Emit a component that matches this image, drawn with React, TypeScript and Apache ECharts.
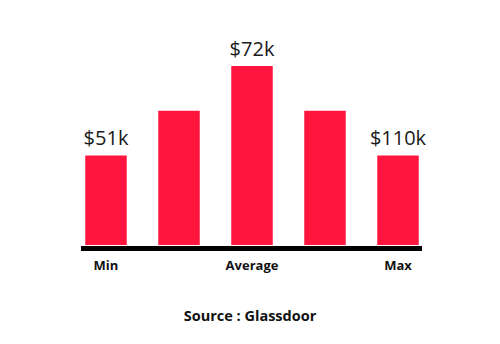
import React, { useEffect, useRef } from "react";
import * as echarts from "echarts";

const categories = ["Min", "", "Average", "", "Max"];
const barValues = [2, 3, 4, 3, 2];
const barLabels = ["$51k", "", "$72k", "", "$110k"];
const sourceText = "Source : Glassdoor";

export default function App() {
  const ref = useRef<HTMLDivElement>(null);
  useEffect(() => {
    if (!ref.current) return;
    const chart = echarts.init(ref.current, null, { renderer: "svg" });
    chart.setOption({
      animation: false,
      backgroundColor: "#ffffff",
      textStyle: { fontFamily: "Open Sans" },
      title: {
        text: sourceText,
        left: "center",
        top: 308,
        padding: 0,
        textStyle: { fontFamily: "Open Sans", fontSize: 14.5, fontWeight: "bold", color: "#111111" },
      },
      grid: [
        { left: 69.5, right: 65.5, top: 21.25, bottom: 99 },
        { left: 81, right: 78, top: 21.25, bottom: 96 },
      ],
      xAxis: [
        {
          type: "category",
          gridIndex: 0,
          data: categories,
          boundaryGap: true,
          axisLine: { show: false },
          axisTick: { show: false },
          axisLabel: {
            interval: 0,
            margin: 13,
            fontFamily: "Open Sans",
            fontSize: 13,
            fontWeight: "bold",
            color: "#111111",
          },
        },
        {
          type: "value",
          gridIndex: 1,
          min: 0,
          max: 1,
          axisLine: { show: true, lineStyle: { color: "#000000", width: 5, cap: "butt" } },
          axisTick: { show: false },
          axisLabel: { show: false },
          splitLine: { show: false },
        },
      ],
      yAxis: [
        { type: "value", gridIndex: 0, min: 0, max: 5, show: false },
        { type: "value", gridIndex: 1, min: 0, max: 1, show: false },
      ],
      series: [
        {
          type: "bar",
          xAxisIndex: 0,
          yAxisIndex: 0,
          data: barValues,
          barWidth: 41.5,
          itemStyle: { color: "#ff163f" },
          label: {
            show: true,
            position: "top",
            distance: 8,
            fontFamily: "Open Sans",
            fontSize: 20,
            color: "#1a1a1a",
            formatter: (p: any) => barLabels[p.dataIndex],
          },
        },
      ],
    });
    return () => chart.dispose();
  }, []);
  return <div ref={ref} style={{ width: 500, height: 344, position: "absolute", left: 0, top: 0 }} />;
}
